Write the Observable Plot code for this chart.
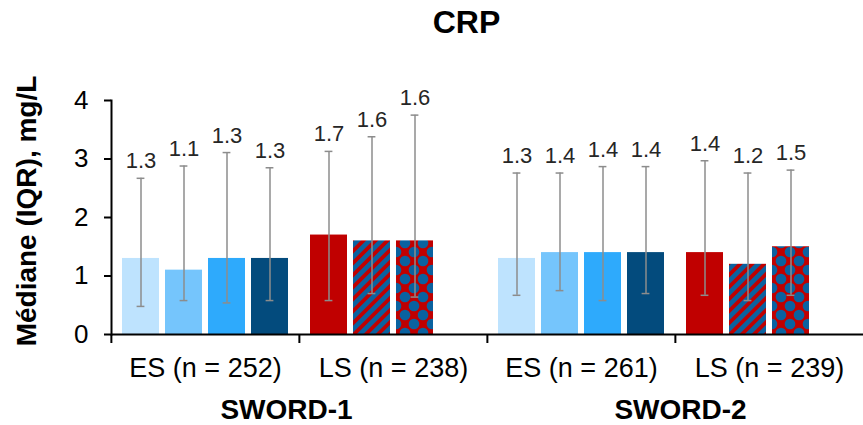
<!DOCTYPE html>
<html><head><meta charset="utf-8">
<script src="https://cdn.jsdelivr.net/npm/d3@7"></script>
<script src="https://cdn.jsdelivr.net/npm/@observablehq/plot@0.6"></script>
<style>
body{margin:0;background:#fff;font-family:"Liberation Sans",Arial,sans-serif;position:relative;}
#title{width:863px;height:45px;line-height:45px;text-align:center;font-weight:bold;font-size:32px;padding-left:70px;box-sizing:border-box;color:#000}
#ylabel{position:absolute;left:27px;top:211px;transform:translate(-50%,-50%) rotate(-90deg);white-space:nowrap;font-weight:bold;font-size:28px;color:#000}
</style></head><body>
<svg width="0" height="0" style="position:absolute">
<defs>
<pattern id="stripes" patternUnits="userSpaceOnUse" width="8.5" height="8.5" patternTransform="rotate(45)">
<rect width="8.5" height="8.5" fill="#C00000"/><rect width="4.8" height="8.5" fill="#0A62A0"/>
</pattern>
<pattern id="checks" patternUnits="userSpaceOnUse" width="18" height="18">
<rect width="18" height="18" fill="#C00000"/>
<circle cx="9" cy="9" r="5.3" fill="#0A62A0"/>
<circle cx="0" cy="0" r="5.3" fill="#0A62A0"/><circle cx="18" cy="0" r="5.3" fill="#0A62A0"/>
<circle cx="0" cy="18" r="5.3" fill="#0A62A0"/><circle cx="18" cy="18" r="5.3" fill="#0A62A0"/>
</pattern>
</defs></svg>
<div id="title">CRP</div>
<div id="ylabel"></div>
<div id="chart"></div>
<script>
const categoryLabels = ["ES (n = 252)", "LS (n = 238)", "ES (n = 261)", "LS (n = 239)"];
const studyLabels = ["SWORD-1", "SWORD-2"];
const armSlots = ["1", "2", "3", "4"];
const medianValues = [[1.3, 1.1, 1.3, 1.3], [1.7, 1.6, 1.6], [1.3, 1.4, 1.4, 1.4], [1.4, 1.2, 1.5]];
const iqrLow = [[0.48, 0.58, 0.54, 0.58], [0.58, 0.70, 0.64], [0.67, 0.75, 0.58, 0.70], [0.67, 0.58, 0.67]];
const iqrHigh = [[2.67, 2.88, 3.11, 2.85], [3.13, 3.38, 3.75], [2.76, 2.76, 2.87, 2.87], [2.97, 2.76, 2.81]];
const esFills = ["#BEE3FE", "#75C5FC", "#2EAAFC", "#034B7D"];
const lsFills = ["#C00000", "url(#stripes)", "url(#checks)"];
const yTicks = [0, 1, 2, 3, 4];
const yLabel = "Médiane (IQR), mg/L";

document.getElementById("ylabel").textContent = yLabel;

const rows = categoryLabels.flatMap((cat, c) => medianValues[c].map((m, j) => ({
  cat, slot: armSlots[j], median: m, lo: iqrLow[c][j], hi: iqrHigh[c][j],
  fill: (c % 2 === 0 ? esFills : lsFills)[j]
})));

const W = 863, H = 380, ML = 110, MR = 0, MT = 55, MB = 91;
const facetW = (W - ML - MR) / categoryLabels.length;
const errColor = "#8C8C8C";
const studyDx = [-13, 5];

const chart = Plot.plot({
  width: W, height: H, marginLeft: ML, marginRight: MR, marginTop: MT, marginBottom: MB,
  style: {fontFamily: '"Liberation Sans", Arial, sans-serif', background: "white", overflow: "visible"},
  fx: {domain: categoryLabels, padding: 0},
  x: {domain: armSlots, paddingInner: 0.14, paddingOuter: 0.23, axis: null},
  y: {domain: [0, 4]},
  color: {type: "identity"},
  marks: [
    Plot.barY(rows, {fx: "cat", x: "slot", y: "median", fill: "fill"}),
    Plot.ruleX(rows, {fx: "cat", x: "slot", y1: "lo", y2: "hi", stroke: errColor, strokeWidth: 1.5}),
    Plot.tickY(rows, {fx: "cat", x: "slot", y: "lo", stroke: errColor, strokeWidth: 1.5, inset: 14.6}),
    Plot.tickY(rows, {fx: "cat", x: "slot", y: "hi", stroke: errColor, strokeWidth: 1.5, inset: 14.6}),
    Plot.text(rows, {fx: "cat", x: "slot", y: "hi", text: d => d.median.toFixed(1), dy: -17, fontSize: 22, fill: "#262626"}),
    Plot.ruleY([0], {stroke: "black", strokeWidth: 2}),
    Plot.axisY({ticks: yTicks, tickFormat: d => String(d), tickSize: 7, tickPadding: 16, fontSize: 26, label: null, stroke: "black", strokeWidth: 2, fill: "black"}),
    Plot.frame({anchor: "left", facetAnchor: "left", stroke: "black", strokeWidth: 2}),
    Plot.axisFx({anchor: "bottom", tickSize: 0, tickPadding: 23, fontSize: 27, label: null, fill: "black"}),
    Plot.axisFx({anchor: "bottom", tickSize: 9, text: null, label: null, dx: -facetW / 2, stroke: "black", strokeWidth: 2}),
    ...studyLabels.map((s, i) => Plot.text([s], {fx: [categoryLabels[2 * i + 1]], frameAnchor: "bottom-left", textAnchor: "middle", dx: studyDx[i], dy: 84, fontSize: 28, fontWeight: "bold", fill: "black"}))
  ]
});
document.getElementById("chart").appendChild(chart);
</script></body></html>
